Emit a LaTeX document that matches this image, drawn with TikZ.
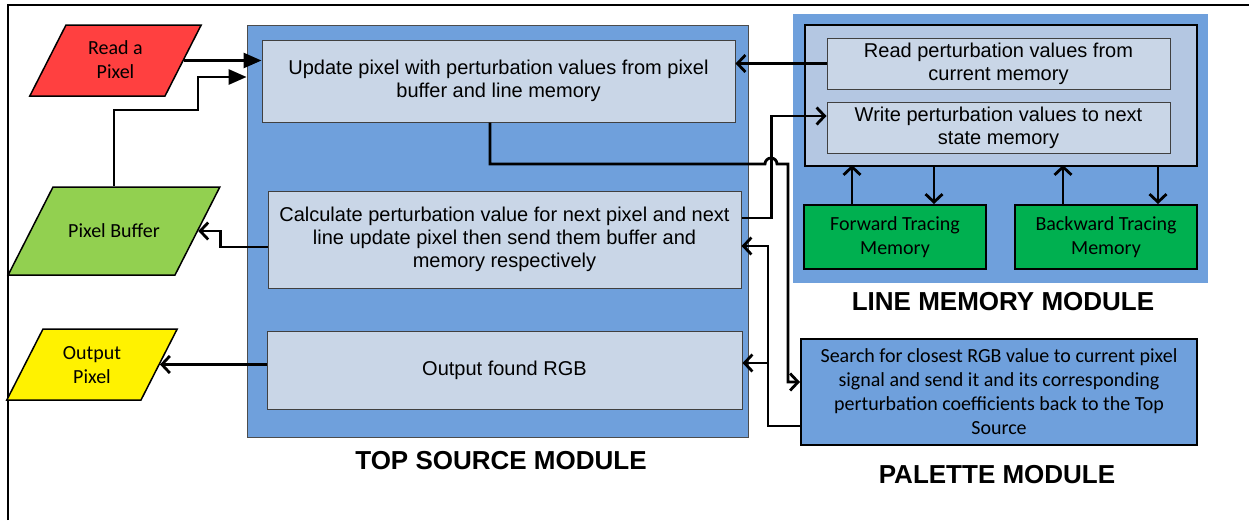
\documentclass[tikz,border=0pt]{standalone}
\usepackage{fontspec}
\setmainfont{Liberation Sans}
\newfontfamily\calfont{Carlito}
\usetikzlibrary{shapes.geometric,arrows.meta}
\definecolor{modblue}{HTML}{6FA0DC}
\definecolor{stepgray}{HTML}{C9D6E7}
\definecolor{coregray}{HTML}{B4C7E2}
\definecolor{memgreen}{HTML}{00B050}
\definecolor{bufgreen}{HTML}{92D050}
\definecolor{readred}{HTML}{FF4040}
\begin{document}
\begin{tikzpicture}[x=1pt,y=-1pt]
\tikzstyle{every node}=[align=flush center, inner sep=0pt, font=\fontsize{20}{23}\selectfont]
\tikzstyle{stage}=[rectangle, draw=black!75, line width=1pt, fill=stepgray]
\tikzstyle{memory}=[rectangle, draw, line width=2pt, fill=memgreen, font=\calfont\fontsize{20}{24}\selectfont]
\tikzstyle{io}=[trapezium, trapezium left angle=63, trapezium right angle=117, draw, line width=1.5pt, font=\calfont\fontsize{20}{24}\selectfont]
\tikzstyle{title}=[font=\bfseries\fontsize{26}{30}\selectfont]
\tikzstyle{wire}=[line width=2.8pt, -{Straight Barb[length=8pt,width=17pt]}]
\tikzstyle{feed}=[line width=2.8pt, -{Triangle[length=18pt,width=15pt]}]
\useasboundingbox (0,0) rectangle (1249,520);
\draw[line width=2pt] (8,520) -- (8,5) -- (1249,5);
\node[draw=black!70, line width=0.8pt, fill=modblue, minimum width=501, minimum height=412] (tsm) at (497.5,231) {};
\node[fill=modblue, minimum width=415, minimum height=269] (lmm) at (1000.5,148.5) {};
\node[draw, line width=2pt, fill=coregray, minimum width=392, minimum height=141] (lmcore) at (1001,95.5) {};
\node[stage, minimum width=473, minimum height=82] (upd) at (498.5,81) {Update pixel with perturbation values from pixel\\buffer and line memory};
\node[stage, minimum width=473, minimum height=97] (calc) at (504.5,239.5) {Calculate perturbation value for next pixel and next\\line update pixel then send them buffer and\\memory respectively};
\node[stage, minimum width=475, minimum height=78] (outp) at (504.5,370) {Output found RGB};
\node[stage, minimum width=343, minimum height=51] (rd) at (998.5,63.5) {Read perturbation values from\\current memory};
\node[stage, minimum width=343, minimum height=51] (wr) at (998.5,127.5) {Write perturbation values to next\\state memory};
\node[memory, minimum width=182, minimum height=64] (ftm) at (895,237) {Forward Tracing\\Memory};
\node[memory, minimum width=182, minimum height=64] (btm) at (1106,237) {Backward Tracing\\Memory};
\node[memory, fill=modblue, minimum width=396, minimum height=106] (pal) at (999,392) {Search for closest RGB value to current pixel\\signal and send it and its corresponding\\perturbation coefficients back to the Top\\Source};
\node[io, fill=readred, text width=99pt, text height=29.5pt, text depth=41.5pt] (rap) at (115.5,60.5) {Read a\\Pixel};
\node[io, fill=bufgreen, text width=122pt, text height=50.5pt, text depth=37.5pt] (pb) at (114,231) {Pixel Buffer};
\node[io, fill=yellow, text width=98pt, text height=30.5pt, text depth=40.5pt] (op) at (92,364.5) {Output\\Pixel};
\node[title] (tsmtitle) at (501,461) {TOP SOURCE MODULE};
\node[title] (lmmtitle) at (1003,302) {LINE MEMORY MODULE};
\node[title] (paltitle) at (997,475) {PALETTE MODULE};
\coordinate (pbbend) at (198,110);
\coordinate (palbus) at (769,363);
\draw[feed] (rap.east) -- (rap.east -| upd.west);
\draw[feed] (pb.north) |- (pbbend) |- ([yshift=154pt]tsm.west);
\draw[wire] (rd.west) -- (rd.west -| upd.east);
\draw[wire] ([yshift=21.5pt]calc.east) -- ++(30,0) |- ([yshift=11.5pt]wr.west);
\draw[wire] ([xshift=-8.5pt]upd.south) |- (765,164) arc[start angle=180, end angle=0, radius=6pt] -- (788,164) |- ([yshift=10pt]pal.west);
\draw[wire] ([yshift=-34pt]pal.west) -- ++(-32,0) |- ([yshift=-6.5pt]calc.east);
\draw[wire] (palbus) -- (palbus -| outp.east);
\draw[wire] ([yshift=-7.5pt]calc.west) -- ++(-47,0) |- (pb.east);
\draw[wire] (outp.west |- op.east) -- (op.east);
\draw[wire] ([xshift=49pt]ftm.north west) -- ++(0,-39);
\draw[wire] ([xshift=-53pt]ftm.north east) ++(0,-39) -- ++(0,39);
\draw[wire] ([xshift=49pt]btm.north west) -- ++(0,-39);
\draw[wire] ([xshift=-40pt]btm.north east) ++(0,-39) -- ++(0,39);
\end{tikzpicture}
\end{document}
